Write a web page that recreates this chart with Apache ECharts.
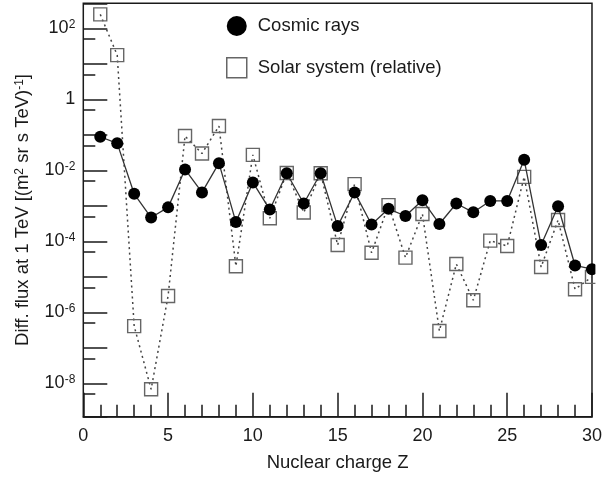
<!DOCTYPE html>
<html><head><meta charset="utf-8">
<script src="https://cdn.jsdelivr.net/npm/echarts@6/dist/echarts.min.js"></script>
<style>html,body{margin:0;padding:0;background:#fff}#c{width:605px;height:478px}</style>
</head><body><div id="c"></div>
<script>
// ---- data ----
const Z = [1,2,3,4,5,6,7,8,9,10,11,12,13,14,15,16,17,18,19,20,21,22,23,24,25,26,27,28,29,30];
const cosmicRays = [0.089, 0.058, 2.2e-3, 4.7e-4, 9.1e-4, 1.07e-2, 2.4e-3, 1.6e-2, 3.5e-4, 4.6e-3,
                    7.9e-4, 8.3e-3, 1.17e-3, 8.3e-3, 2.7e-4, 2.4e-3, 3.0e-4, 8.3e-4, 5.2e-4, 1.45e-3,
                    3.1e-4, 1.17e-3, 6.6e-4, 1.38e-3, 1.38e-3, 2.0e-2, 7.9e-5, 9.8e-4, 2.1e-5, 1.65e-5];
const solarSystem = [250, 17.8, 4.1e-7, 6.8e-9, 2.9e-6, 9.3e-2, 3.0e-2, 0.178, 2.0e-5, 2.75e-2,
                     4.5e-4, 8.5e-3, 6.5e-4, 8.3e-3, 7.9e-5, 4.1e-3, 4.8e-5, 1.05e-3, 3.5e-5, 5.9e-4,
                     3.0e-7, 2.3e-5, 2.2e-6, 1.05e-4, 7.4e-5, 6.6e-3, 1.9e-5, 4.0e-4, 4.5e-6, 1.0e-5];
const seriesNames = ['Cosmic rays', 'Solar system (relative)'];
const yLabelExps = [2, 0, -2, -4, -6, -8];
const yExpMin = -8.94, yExpMax = 2.71;
const xMin = 0, xMax = 30, xStep = 5;

// ---- style ----
const FONT = '"Liberation Sans", Arial, sans-serif';
const INK = '#1a1a1a';
const chart = echarts.init(document.getElementById('c'), null, {renderer: 'canvas'});
const supRich = {
  b: {fontSize: 18, fontFamily: FONT, color: INK, lineHeight: 20},
  s: {fontSize: 12, fontFamily: FONT, color: INK, lineHeight: 12, verticalAlign: 'top'}
};
const hidden = {axisLine: {show: false}, axisTick: {show: false}, axisLabel: {show: false}, splitLine: {show: false}};

chart.setOption({
  animation: false,
  backgroundColor: '#fff',
  textStyle: {fontFamily: FONT},
  grid: {left: 83.3, right: 10.5, top: 3.3, bottom: 61.3, show: true, borderColor: INK, borderWidth: 1.5, backgroundColor: 'transparent'},
  legend: {
    orient: 'vertical', left: 221, top: 11, itemWidth: 20, itemHeight: 20, itemGap: 21,
    selectedMode: false,
    textStyle: {fontSize: 18.5, color: INK, fontFamily: FONT, padding: [0, 0, 0, 6]},
    data: [
      {name: seriesNames[0], icon: 'circle', itemStyle: {color: '#000', borderWidth: 0}},
      {name: seriesNames[1], icon: 'rect', itemStyle: {color: '#fff', borderColor: '#666', borderWidth: 1.5}}
    ]
  },
  xAxis: {
    type: 'value', min: xMin, max: xMax, interval: xStep,
    axisLine: {show: true, onZero: false, lineStyle: {color: INK, width: 1.5}},
    axisTick: {inside: true, length: 24, lineStyle: {color: INK, width: 1.5}},
    minorTick: {show: true, splitNumber: 5, length: 12, lineStyle: {color: INK, width: 1.5}},
    splitLine: {show: false}, minorSplitLine: {show: false},
    axisLabel: {fontSize: 18, color: INK, margin: 10, fontFamily: FONT},
    name: 'Nuclear charge Z', nameLocation: 'middle', nameGap: 37,
    nameTextStyle: {fontSize: 18.5, color: INK, fontFamily: FONT}
  },
  yAxis: [
    Object.assign({type: 'log', min: Math.pow(10, yExpMin), max: Math.pow(10, yExpMax), position: 'left'}, hidden),
    {
      type: 'value', min: yExpMin, max: yExpMax, splitNumber: 12, minInterval: 1, maxInterval: 1, position: 'left',
      axisLine: {show: false, onZero: false}, splitLine: {show: false},
      axisTick: {inside: true, length: 24, lineStyle: {color: INK, width: 1.5}},
      axisLabel: {
        margin: 8, rich: supRich,
        formatter: v => {
          const r = Math.round(v);
          if (Math.abs(v - r) > 1e-6 || yLabelExps.indexOf(r) < 0) return '';
          return r === 0 ? '{b|1}' : '{b|10}{s|' + r + '}';
        }
      },
      name: '{a|Diff. flux at 1 TeV [(m}{s|2}{a| sr s TeV)}{s|-1}{a|]}',
      nameLocation: 'middle', nameGap: 50, nameRotate: 90,
      nameTextStyle: {rich: {
        a: {fontSize: 18.5, fontFamily: FONT, color: INK, lineHeight: 20},
        s: {fontSize: 12, fontFamily: FONT, color: INK, lineHeight: 12, verticalAlign: 'top'}
      }}
    },
    {
      type: 'value', min: yExpMin + Math.log10(2), max: yExpMax + Math.log10(2), splitNumber: 12, minInterval: 1, maxInterval: 1, position: 'left',
      axisLine: {show: false, onZero: false}, splitLine: {show: false}, axisLabel: {show: false},
      axisTick: {inside: true, length: 12, lineStyle: {color: INK, width: 1.5}}
    }
  ],
  series: [
    {
      name: seriesNames[1], type: 'line', yAxisIndex: 0, clip: false, silent: true,
      data: Z.map((z, i) => [z, solarSystem[i]]),
      symbol: 'rect', symbolSize: 13, showSymbol: true,
      itemStyle: {color: 'rgba(0,0,0,0)', borderColor: '#666', borderWidth: 1.4},
      lineStyle: {color: '#444', width: 1.5, type: [2, 3.5]},
      emphasis: {disabled: true}, z: 2
    },
    {
      name: seriesNames[0], type: 'line', yAxisIndex: 0, clip: false, silent: true,
      data: Z.map((z, i) => [z, cosmicRays[i]]),
      symbol: 'circle', symbolSize: 12, showSymbol: true,
      itemStyle: {color: '#000'},
      lineStyle: {color: '#333', width: 1.3},
      emphasis: {disabled: true}, z: 3
    }
  ],
  graphic: [
    {type: 'rect', shape: {x: 595.4, y: 0, width: 10, height: 417}, style: {fill: '#fff'}, z: 100, silent: true}
  ]
});
</script>
</body></html>
